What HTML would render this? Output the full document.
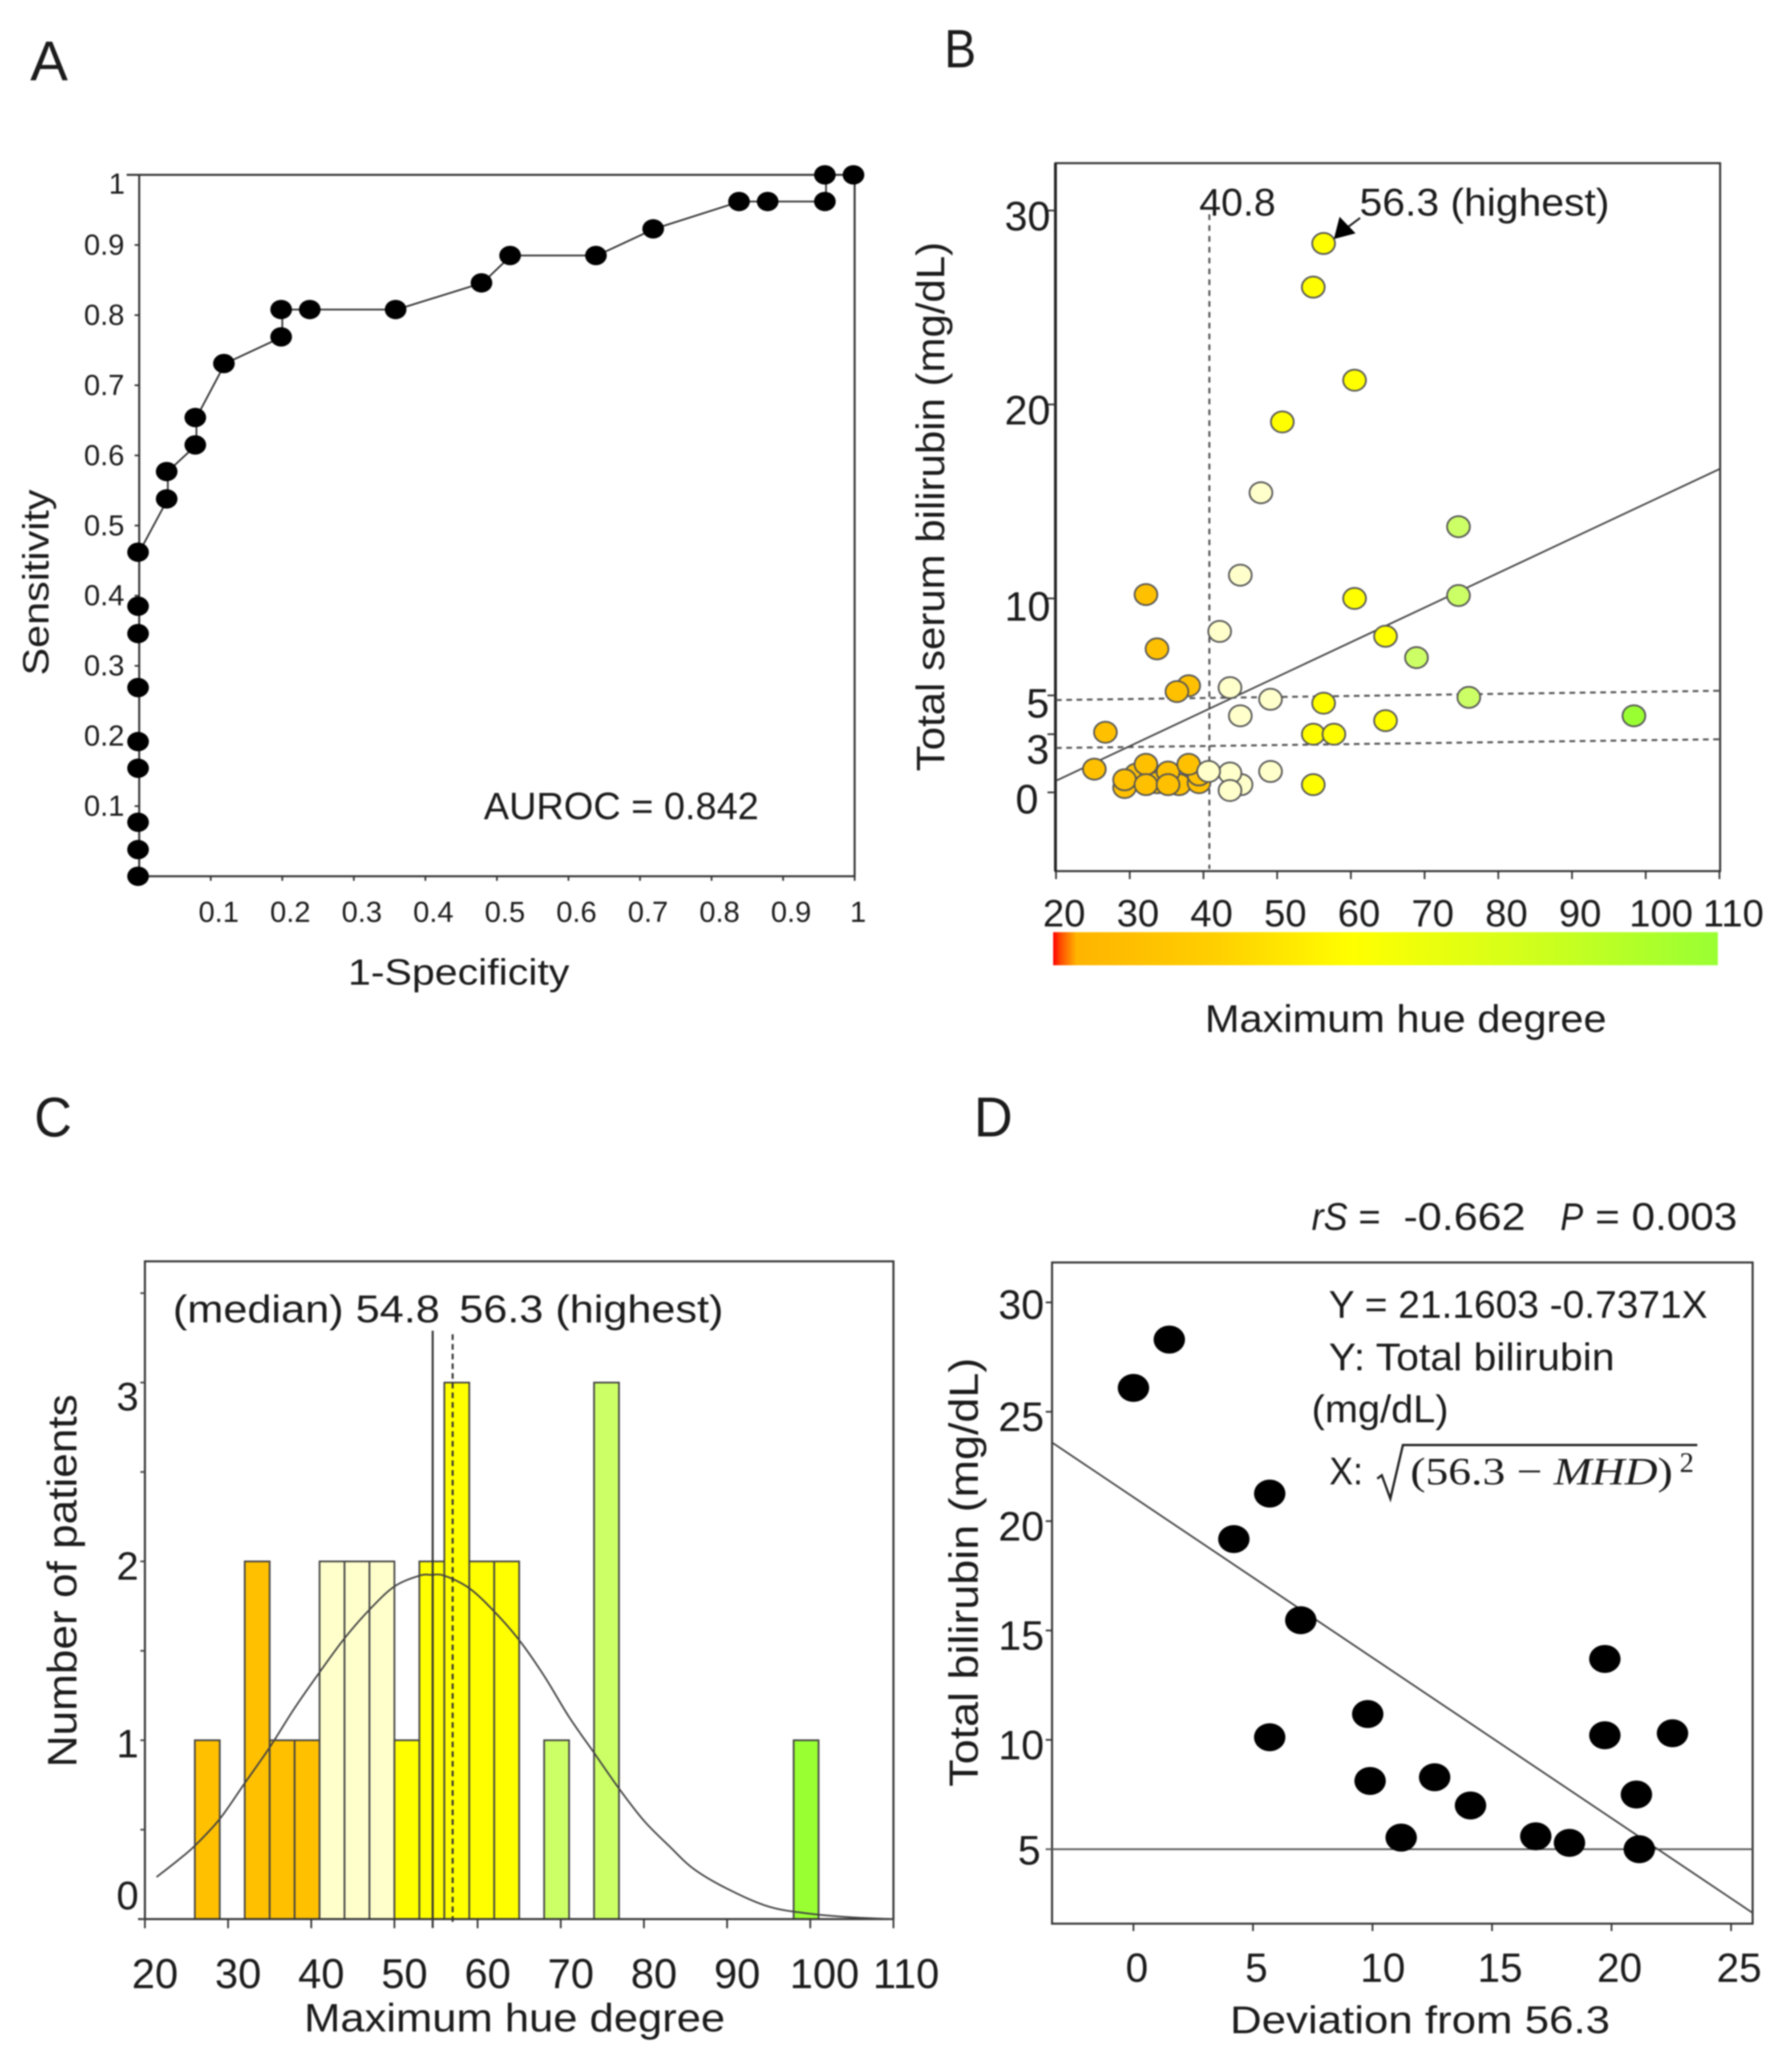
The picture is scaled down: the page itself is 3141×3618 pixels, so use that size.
<!DOCTYPE html>
<html lang="en">
<head>
<meta charset="utf-8">
<title>Maximum hue degree and bilirubin figure</title>
<style>
html,body{margin:0;padding:0;background:#fff;}
#figure{display:block;width:3141px;height:3618px;filter:blur(1.2px);}
text{font-family:"Liberation Sans",sans-serif;fill:#1c1c1c;}
</style>
</head>
<body>
<svg id="figure" xmlns="http://www.w3.org/2000/svg" width="3141" height="3618" viewBox="0 0 3141 3618">
<defs>
<linearGradient id="hueGrad" x1="0" x2="1" y1="0" y2="0">
<stop offset="0" stop-color="#ff0000"/>
<stop offset="0.012" stop-color="#ff5000"/>
<stop offset="0.035" stop-color="#ffb400"/>
<stop offset="0.25" stop-color="#ffd000"/>
<stop offset="0.45" stop-color="#ffff00"/>
<stop offset="0.7" stop-color="#d4ff1a"/>
<stop offset="1" stop-color="#99ff33"/>
</linearGradient>
</defs>
<rect x="0" y="0" width="3141" height="3618" fill="#fff"/>

<!-- Panel letters -->
<text x="53" y="141" font-size="98" textLength="66" lengthAdjust="spacingAndGlyphs">A</text>
<text x="1655" y="118" font-size="95" textLength="56" lengthAdjust="spacingAndGlyphs">B</text>
<text x="60" y="1992" font-size="98" textLength="66" lengthAdjust="spacingAndGlyphs">C</text>
<text x="1707" y="1992" font-size="98" textLength="68" lengthAdjust="spacingAndGlyphs">D</text>

<!-- Panel A -->
<g id="panelA">
<path d="M222 306.5H1498V1536H244V306.5" fill="none" stroke="#333" stroke-width="3.5"/>
<g id="aTicks"></g>
<g id="aLine"></g>
<text x="848" y="1436" font-size="67" textLength="482" lengthAdjust="spacingAndGlyphs">AUROC = 0.842</text>
<text x="610" y="1726" font-size="64" textLength="388" lengthAdjust="spacingAndGlyphs">1-Specificity</text>
<text transform="translate(85,1184) rotate(-90)" font-size="64" textLength="326" lengthAdjust="spacingAndGlyphs">Sensitivity</text>
</g>

<!-- Panel B -->
<g id="panelB">
<rect x="1850" y="286" width="1165" height="1241" fill="none" stroke="#333" stroke-width="3.5"/>
<line x1="1850" y1="286" x2="1850" y2="1527" stroke="#222" stroke-width="5"/>
<g id="bTicks"></g>
<g id="bLines"></g>
<g id="bPoints"></g>
<text x="2102" y="378" font-size="68" textLength="134" lengthAdjust="spacingAndGlyphs">40.8</text>
<text x="2383" y="378" font-size="68" textLength="438" lengthAdjust="spacingAndGlyphs">56.3 (highest)</text>
<line x1="2364" y1="397" x2="2384" y2="382" stroke="#222" stroke-width="3.5"/>
<polygon points="2338,419 2348,380 2376,409" fill="#000"/>
<rect x="1846" y="1634" width="1165" height="58" fill="url(#hueGrad)"/>
<text x="2112" y="1809" font-size="68" textLength="704" lengthAdjust="spacingAndGlyphs">Maximum hue degree</text>
<text transform="translate(1655,1352) rotate(-90)" font-size="70" textLength="928" lengthAdjust="spacingAndGlyphs">Total serum bilirubin (mg/dL)</text>
</g>

<!-- Panel C -->
<g id="panelC">
<g id="cBars"></g>
<rect x="254" y="2211" width="1312" height="1153" fill="none" stroke="#333" stroke-width="3.5"/>
<line x1="242" y1="3364" x2="254" y2="3364" stroke="#333" stroke-width="3.5"/>
<g id="cTicks"></g>
<g id="cLines"></g>
<text x="303" y="2318" font-size="68" textLength="468" lengthAdjust="spacingAndGlyphs">(median) 54.8</text>
<text x="805" y="2318" font-size="68" textLength="463" lengthAdjust="spacingAndGlyphs">56.3 (highest)</text>
<text x="533" y="3561" font-size="70" textLength="738" lengthAdjust="spacingAndGlyphs">Maximum hue degree</text>
<text transform="translate(134,3098) rotate(-90)" font-size="72" textLength="654" lengthAdjust="spacingAndGlyphs">Number of patients</text>
</g>

<!-- Panel D -->
<g id="panelD">
<rect x="1844" y="2213" width="1228" height="1159" fill="none" stroke="#333" stroke-width="3.5"/>
<g id="dTicks"></g>
<g id="dLines"></g>
<g id="dPoints"></g>
<text x="2299" y="2156" font-size="68" font-style="italic" textLength="63" lengthAdjust="spacingAndGlyphs">rS</text>
<text x="2381" y="2156" font-size="68" textLength="39" lengthAdjust="spacingAndGlyphs">=</text>
<text x="2460" y="2156" font-size="68" textLength="214" lengthAdjust="spacingAndGlyphs">-0.662</text>
<text x="2735" y="2156" font-size="68" font-style="italic" textLength="40" lengthAdjust="spacingAndGlyphs">P</text>
<text x="2796" y="2156" font-size="68" textLength="249" lengthAdjust="spacingAndGlyphs">= 0.003</text>
<text x="2329" y="2310" font-size="68" textLength="664" lengthAdjust="spacingAndGlyphs">Y = 21.1603 -0.7371X</text>
<text x="2329" y="2402" font-size="68" textLength="501" lengthAdjust="spacingAndGlyphs">Y: Total bilirubin</text>
<text x="2299" y="2493" font-size="68" textLength="240" lengthAdjust="spacingAndGlyphs">(mg/dL)</text>
<text x="2330" y="2602" font-size="68" textLength="59" lengthAdjust="spacingAndGlyphs">X:</text>
<path d="M2414 2592L2422 2586L2437 2627L2459 2533H2975" fill="none" stroke="#222" stroke-width="4"/>
<text x="2472" y="2602" font-size="68" textLength="460" lengthAdjust="spacingAndGlyphs" style="font-family:'Liberation Serif',serif">(56.3 − <tspan font-style="italic">MHD</tspan>)</text>
<text x="2944" y="2580" font-size="50" textLength="25" lengthAdjust="spacingAndGlyphs" style="font-family:'Liberation Serif',serif">2</text>
<text x="2156" y="3564" font-size="68" textLength="666" lengthAdjust="spacingAndGlyphs">Deviation  from 56.3</text>
<text transform="translate(1714,3132) rotate(-90)" font-size="71" textLength="752" lengthAdjust="spacingAndGlyphs">Total bilirubin (mg/dL)</text>
</g>
</svg>

<script>
/* ---------- Panel A data ---------- */
const rocFpr = [0,0,0,0,0,0,0,0,0,0.04,0.04,0.08,0.08,0.12,0.2,0.2,0.24,0.36,0.48,0.52,0.64,0.72,0.84,0.88,0.96,0.96,1];
const rocTpr = [0,0.038,0.077,0.154,0.192,0.269,0.346,0.385,0.462,0.538,0.577,0.615,0.654,0.731,0.769,0.808,0.808,0.808,0.846,0.885,0.885,0.923,0.962,0.962,0.962,1,1];
const rocXTicks = [0.1,0.2,0.3,0.4,0.5,0.6,0.7,0.8,0.9,1];
const rocYTicks = [0.1,0.2,0.3,0.4,0.5,0.6,0.7,0.8,0.9,1];

/* ---------- Panel B data ---------- */
const hueXTicks = [20,30,40,50,60,70,80,90,100,110];
const bilirubinYTicks = [0,3,5,10,20,30];
const orangeHue = [29.3,30.9,33.7,36.7,39.4,39.4,25.2,26.7,32.2,33.7,38,36.4,32.2,35.2,38,29.3,32.2,35.2];
const orangeBili = [0.25,0.95,0.5,0.4,0.5,0.9,1.2,3.1,10.2,7.4,5.5,5.2,1.45,1.05,1.45,0.65,0.4,0.4];
const creamHue = [47.8,45,42.2,43.6,49.1,45,45.1,43.6,49.1,40.7,43.6];
const creamBili = [15.45,11.2,8.3,5.4,4.8,3.95,0.4,1,1.08,1.08,0.1];
const yellowHue = [56.3,54.9,60.5,50.7,60.5,64.7,56.3,64.7,54.9,57.7,54.9];
const yellowBili = [28.3,26.05,21.25,19.1,10,8.05,4.6,3.7,3,3,0.4];
const limeHue = [74.6,74.6,68.9,76];
const limeBili = [13.7,10.15,6.95,4.9];
const greenHue = [98.4];
const greenBili = [3.95];
const trendHue = [20,110];
const trendBili = [0.6,16.67];
const cutoffFiveBili = [4.76,5.24];
const cutoffThreeBili = [2.29,2.74];
const cutoffHue = [40.8,40.8];
const cutoffBili = [29.8,-3.95];

/* ---------- Panel C data ---------- */
const binStart = [26,32,35,38,41,44,47,50,53,56,59,62,68,74,98];
const binCount = [1,2,1,1,2,2,2,1,2,3,2,2,1,3,1];
const binGroup = ["orange","orange","orange","orange","cream","cream","cream","yellow","yellow","yellow","yellow","yellow","lime","lime","green"];
const curveHue = [21.4,24,26,29,32,35,38,41,44,47,50,53,54.4,56,59,62,65,68,71,74,77,80,83,86,90,95,100,105,110];
const curveCount = [0.235,0.33,0.41,0.56,0.76,0.96,1.18,1.38,1.57,1.73,1.86,1.92,1.925,1.92,1.85,1.72,1.56,1.36,1.13,0.93,0.73,0.55,0.41,0.28,0.17,0.07,0.03,0.01,0];
const histXTicks = [20,30,40,50,60,70,80,90,100,110];
const histYLabels = [0,1,2,3];
const histYTicks = [0,0.5,1,1.5,2,2.5,3,3.5];
const medianHue = 54.6;
const highestHue = 57;

/* ---------- Panel D data ---------- */
const deviation = [0,1.5,5.7,4.2,7,5.7,9.8,9.9,12.6,14.1,11.2,16.83,18.24,19.72,19.72,22.55,21.04,21.16];
const totalBili = [26.09,28.3,21.26,19.18,15.47,10.12,11.18,8.12,8.29,7,5.53,5.59,5.29,13.7,10.21,10.3,7.5,5];
const devXTicks = [0,5,10,15,20,25];
const devYTicks = [5,10,15,20,25,30];
const fitDeviation = [-3.4,25.9];
const fitBili = [23.59,2.09];
const refDeviation = [-3.65,25.9];
const refBili = [5,5];

/* ---------- Shared ---------- */
const groupFill = {orange:"#FFC000",cream:"#FFFFCC",yellow:"#FFFF00",lime:"#CCFF66",green:"#99FF33"};
const SVGNS = "http://www.w3.org/2000/svg";
function mk(tag, attrs, parent){
  const e = document.createElementNS(SVGNS, tag);
  for (const k in attrs) e.setAttribute(k, attrs[k]);
  parent.appendChild(e);
  return e;
}
function g(id){ return document.getElementById(id); }
function smoothPath(pts){
  let d = "M" + pts[0][0] + " " + pts[0][1];
  for (let i = 0; i < pts.length - 1; i++){
    const p0 = pts[Math.max(i-1,0)], p1 = pts[i], p2 = pts[i+1], p3 = pts[Math.min(i+2,pts.length-1)];
    const c1x = p1[0] + (p2[0]-p0[0])/6, c1y = p1[1] + (p2[1]-p0[1])/6;
    const c2x = p2[0] - (p3[0]-p1[0])/6, c2y = p2[1] - (p3[1]-p1[1])/6;
    d += "C" + c1x + " " + c1y + " " + c2x + " " + c2y + " " + p2[0] + " " + p2[1];
  }
  return d;
}

/* Axis functions */
const ax = v => 244 + 1254 * v;
const ay = v => 1536 - 1229.5 * v;
const bx = v => 1851 + (v - 20) * 12.92;
const by = v => 1389 - 34 * v;
const cx = v => 254 + (v - 20) * 14.578;
const cy = v => 3364 - 313.5 * v;
const dx = v => 1986.7 + 41.9 * v;
const dy = v => 3241.5 - 38.34 * (v - 5);

/* ---------- Panel A ---------- */
rocXTicks.forEach(v => {
  const t = mk("line",{x1:ax(v),x2:ax(v),y1:1536,y2:1544,stroke:"#333","stroke-width":3},g("aTicks"));
  
  
  const l = mk("text",{x:ax(v)+(v===1?6:14),y:1616,"font-size":51,"text-anchor":"middle"},g("aTicks"));
  l.textContent = String(v);
  
  
});
rocYTicks.forEach(v => {
  const t = mk("line",{x1:236,x2:244,y1:ay(v),y2:ay(v),stroke:"#333","stroke-width":3},g("aTicks"));
  
  
  const l = mk("text",{x:v===1?219:218,y:ay(v)+(v===1?33:17),"font-size":51,"text-anchor":"end"},g("aTicks"));
  l.textContent = String(v);
  
  
});
const rocPath = mk("polyline",{points:rocFpr.map((f,i)=>ax(f)+","+ay(rocTpr[i])).join(" "),fill:"none",stroke:"#333","stroke-width":3},g("aLine"));


rocFpr.forEach((f,i) => {
  const p = mk("ellipse",{cx:ax(f)-2,cy:ay(rocTpr[i]),rx:19,ry:17,fill:"#000"},g("aLine"));
  
  
});

/* ---------- Panel B ---------- */
hueXTicks.forEach(v => {
  const t = mk("line",{x1:bx(v),x2:bx(v),y1:1527,y2:1541,stroke:"#333","stroke-width":3},g("bTicks"));
  
  
  const l = mk("text",{x:bx(v)-(v>=100?29:23),y:1624,"font-size":67},g("bTicks"));
  l.textContent = String(v);
  
  
});
bilirubinYTicks.forEach(v => {
  const t = mk("line",{x1:1836,x2:1850,y1:by(v),y2:by(v),stroke:"#333","stroke-width":3},g("bTicks"));
  
  
  const l = mk("text",{x:v===0?1820:(v<10?1839:1841),y:by(v)+(v===3?52:(v===0?37:(v===5||v===10?39:35))),"font-size":72,"text-anchor":"end"},g("bTicks"));
  l.textContent = String(v);
  
  
});
const bVert = mk("line",{x1:bx(cutoffHue[0]),x2:bx(cutoffHue[1]),y1:by(cutoffBili[0]),y2:by(cutoffBili[1]),stroke:"#555","stroke-width":3.5,"stroke-dasharray":"10 9"},g("bLines"));


const bFive = mk("line",{x1:bx(trendHue[0]),x2:bx(trendHue[1]),y1:by(cutoffFiveBili[0]),y2:by(cutoffFiveBili[1]),stroke:"#555","stroke-width":3.5,"stroke-dasharray":"10 8"},g("bLines"));


const bThree = mk("line",{x1:bx(trendHue[0]),x2:bx(trendHue[1]),y1:by(cutoffThreeBili[0]),y2:by(cutoffThreeBili[1]),stroke:"#555","stroke-width":3.5,"stroke-dasharray":"10 8"},g("bLines"));


const bTrend = mk("line",{x1:bx(trendHue[0]),x2:bx(trendHue[1]),y1:by(trendBili[0]),y2:by(trendBili[1]),stroke:"#444","stroke-width":3},g("bLines"));


function drawScatter(xs, ys, key){
  xs.forEach((x,i) => {
    const p = mk("ellipse",{cx:bx(x),cy:by(ys[i]),rx:20,ry:18.5,fill:groupFill[key],stroke:"#555","stroke-width":3},g("bPoints"));
    
    
  });
}
drawScatter(orangeHue, orangeBili, "orange");
drawScatter(creamHue, creamBili, "cream");
drawScatter(yellowHue, yellowBili, "yellow");
drawScatter(limeHue, limeBili, "lime");
drawScatter(greenHue, greenBili, "green");

/* ---------- Panel C ---------- */
binStart.forEach((s,i) => {
  const r = mk("rect",{x:cx(s),y:cy(binCount[i]),width:cx(s+3)-cx(s),height:cy(0)-cy(binCount[i]),fill:groupFill[binGroup[i]],stroke:"#444","stroke-width":3},g("cBars"));
  
  
});
histXTicks.forEach(v => {
  const t = mk("line",{x1:cx(v),x2:cx(v),y1:3364,y2:3380,stroke:"#333","stroke-width":3},g("cTicks"));
  
  
  const l = mk("text",{x:cx(v)-(v>=100?36:23),y:3485,"font-size":73},g("cTicks"));
  l.textContent = String(v);
  
  
});
histYTicks.forEach(v => {
  const t = mk("line",{x1:246,x2:254,y1:cy(v),y2:cy(v),stroke:"#444","stroke-width":3},g("cTicks"));
  
  
});
histYLabels.forEach(v => {
  const l = mk("text",{x:243,y:cy(v)+(v===0?-17:(v===3?49:(v===1?30:32))),"font-size":70,"text-anchor":"end"},g("cTicks"));
  l.textContent = String(v);
  
  
});
const curve = mk("path",{d:smoothPath(curveHue.map((h,i)=>[cx(h),cy(curveCount[i])])),fill:"none",stroke:"#444","stroke-width":3,"stroke-linejoin":"round"},g("cLines"));


const med = mk("line",{x1:cx(medianHue),x2:cx(medianHue),y1:cy(3.29),y2:cy(-0.05),stroke:"#333","stroke-width":3.5},g("cLines"));


const hi = mk("line",{x1:cx(highestHue),x2:cx(highestHue),y1:cy(3.27),y2:cy(-0.02),stroke:"#333","stroke-width":3.5,"stroke-dasharray":"10 7"},g("cLines"));



/* ---------- Panel D ---------- */
devXTicks.forEach(v => {
  const t = mk("line",{x1:dx(v),x2:dx(v),y1:3372,y2:3385,stroke:"#333","stroke-width":3},g("dTicks"));
  
  
  const l = mk("text",{x:dx(v)+(v<10?6:(v===10?18:14)),y:3474,"font-size":71,"text-anchor":"middle"},g("dTicks"));
  l.textContent = String(v);
  
  
});
devYTicks.forEach(v => {
  const t = mk("line",{x1:1833,x2:1844,y1:dy(v),y2:dy(v),stroke:"#333","stroke-width":3},g("dTicks"));
  
  
  const l = mk("text",{x:v===5?1824:1830,y:dy(v)+(v===30?29:(v===5?27:34)),"font-size":72,"text-anchor":"end"},g("dTicks"));
  l.textContent = String(v);
  
  
});
const dFit = mk("line",{x1:dx(fitDeviation[0]),x2:dx(fitDeviation[1]),y1:dy(fitBili[0]),y2:dy(fitBili[1]),stroke:"#444","stroke-width":3},g("dLines"));


const dRef = mk("line",{x1:dx(refDeviation[0]),x2:dx(refDeviation[1]),y1:dy(refBili[0]),y2:dy(refBili[1]),stroke:"#555","stroke-width":3},g("dLines"));


deviation.forEach((d,i) => {
  const p = mk("ellipse",{cx:dx(d),cy:dy(totalBili[i]),rx:27.5,ry:24.5,fill:"#000"},g("dPoints"));
  
  
});
</script>
</body>
</html>
